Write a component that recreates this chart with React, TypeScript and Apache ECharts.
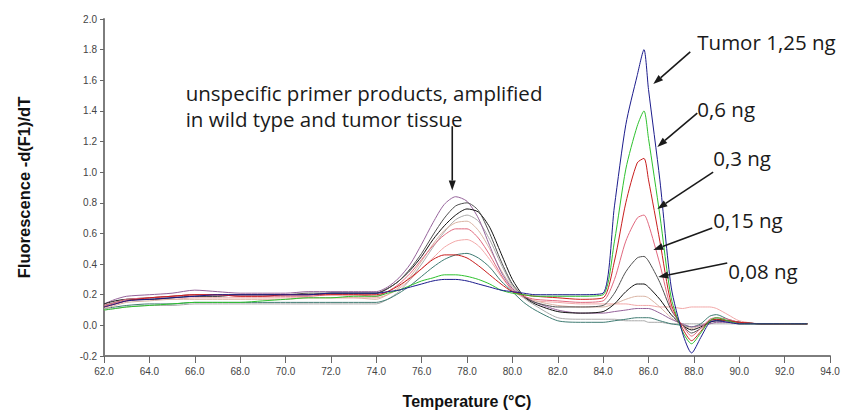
import React, { useEffect, useRef } from "react";
import * as echarts from "echarts";

// Melting temperature grid (°C) shared by every curve
const temps = [
  62, 62.5, 63, 64, 65, 66, 67, 68, 69, 70, 71, 72, 73, 74,
  74.5, 75, 75.5, 76, 76.5, 77, 77.5, 78, 78.5, 79, 79.5, 80, 80.5, 81, 82, 83,
  84,
  84.5, 85, 85.5, 85.8, 86, 86.5, 87, 87.5, 87.9,
  88.3, 88.7, 89, 89.5, 90, 91, 92, 93,
];

// -d(F1)/dT per sample
const tumor125 = [
  0.12, 0.14, 0.16, 0.17, 0.18, 0.19, 0.2, 0.2, 0.2, 0.2, 0.2, 0.21, 0.21, 0.21,
  0.22, 0.23, 0.25, 0.27, 0.29, 0.3, 0.3, 0.29, 0.27, 0.25, 0.23, 0.22, 0.21, 0.2, 0.2, 0.2,
  0.21,
  0.78, 1.31, 1.63, 1.8, 1.54, 0.95, 0.25, -0.05, -0.18,
  -0.08, 0.02, 0.03, 0.02, 0.01, 0.01, 0.01, 0.01,
];
const tumor06 = [
  0.1, 0.11, 0.12, 0.13, 0.14, 0.15, 0.15, 0.15, 0.16, 0.17, 0.18, 0.18, 0.19, 0.19,
  0.21, 0.23, 0.26, 0.29, 0.31, 0.33, 0.33, 0.32, 0.3, 0.27, 0.23, 0.21, 0.2, 0.19, 0.19, 0.19,
  0.2,
  0.55, 1.02, 1.3, 1.4, 1.22, 0.72, 0.18, -0.04, -0.12,
  -0.05, 0.03, 0.05, 0.03, 0.01, 0.01, 0.01, 0.01,
];
const tumor03 = [
  0.12, 0.14, 0.16, 0.18, 0.19, 0.2, 0.2, 0.19, 0.19, 0.2, 0.2, 0.2, 0.2, 0.2,
  0.22, 0.26, 0.31, 0.37, 0.43, 0.46, 0.46, 0.44, 0.39, 0.33, 0.27, 0.22, 0.2, 0.19, 0.18, 0.17,
  0.18,
  0.42, 0.8, 1.06, 1.09, 0.95, 0.55, 0.14, -0.02, -0.1,
  -0.04, 0.03, 0.04, 0.03, 0.02, 0.01, 0.01, 0.01,
];
const tumor015 = [
  0.13, 0.15, 0.17, 0.18, 0.19, 0.2, 0.2, 0.19, 0.19, 0.19, 0.19, 0.2, 0.2, 0.19,
  0.22, 0.27, 0.34, 0.43, 0.52, 0.59, 0.63, 0.63, 0.57, 0.46, 0.33, 0.23, 0.19, 0.17, 0.16, 0.15,
  0.16,
  0.3, 0.55, 0.7, 0.72, 0.66, 0.4, 0.11, 0.0, -0.07,
  -0.02, 0.04, 0.05, 0.04, 0.02, 0.01, 0.01, 0.01,
];
const tumor008 = [
  0.13, 0.15, 0.17, 0.18, 0.19, 0.2, 0.2, 0.2, 0.2, 0.2, 0.21, 0.21, 0.21, 0.21,
  0.24, 0.29, 0.37, 0.47, 0.59, 0.7, 0.78, 0.8, 0.75, 0.6, 0.42, 0.27, 0.19, 0.15, 0.12, 0.12,
  0.13,
  0.21, 0.35, 0.44, 0.45, 0.42, 0.28, 0.1, 0.0, -0.05,
  -0.02, 0.03, 0.04, 0.03, 0.02, 0.01, 0.01, 0.01,
];
const tumor004 = [
  0.14, 0.16, 0.17, 0.17, 0.18, 0.19, 0.19, 0.2, 0.2, 0.2, 0.2, 0.21, 0.21, 0.21,
  0.24, 0.29, 0.36, 0.45, 0.56, 0.65, 0.72, 0.76, 0.74, 0.64, 0.47, 0.3, 0.19, 0.14, 0.09, 0.08,
  0.09,
  0.14, 0.22, 0.27, 0.27, 0.25, 0.17, 0.07, 0.0, -0.03,
  -0.01, 0.02, 0.03, 0.03, 0.02, 0.01, 0.01, 0.01,
];
const tumor002 = [
  0.11, 0.13, 0.15, 0.16, 0.17, 0.17, 0.17, 0.17, 0.17, 0.17, 0.18, 0.18, 0.18, 0.17,
  0.2, 0.25, 0.32, 0.42, 0.53, 0.62, 0.67, 0.68, 0.62, 0.5, 0.36, 0.25, 0.19, 0.16, 0.13, 0.12,
  0.12,
  0.14, 0.17, 0.19, 0.19, 0.18, 0.12, 0.05, 0.0, -0.02,
  0.0, 0.02, 0.03, 0.02, 0.01, 0.01, 0.01, 0.01,
];
const tumor001 = [
  0.14, 0.17, 0.19, 0.2, 0.21, 0.23, 0.22, 0.21, 0.21, 0.21, 0.22, 0.22, 0.22, 0.22,
  0.25, 0.31, 0.4, 0.53, 0.67, 0.79, 0.84, 0.81, 0.7, 0.52, 0.35, 0.24, 0.19, 0.15, 0.1, 0.08,
  0.08,
  0.09, 0.1, 0.11, 0.11, 0.11, 0.08, 0.04, 0.01, -0.01,
  0.0, 0.01, 0.02, 0.02, 0.01, 0.01, 0.01, 0.01,
];
const wildType1 = [
  0.11, 0.12, 0.13, 0.14, 0.14, 0.15, 0.15, 0.15, 0.15, 0.15, 0.15, 0.15, 0.15, 0.15,
  0.17, 0.21, 0.26, 0.32, 0.38, 0.43, 0.46, 0.47, 0.44, 0.38, 0.29, 0.22, 0.15, 0.1, 0.03, 0.02,
  0.02,
  0.03, 0.04, 0.05, 0.05, 0.05, 0.03, 0.01, 0.0, -0.01,
  0.01, 0.06, 0.07, 0.04, 0.02, 0.01, 0.01, 0.01,
];
const wildType2 = [
  0.1, 0.11, 0.12, 0.13, 0.13, 0.14, 0.14, 0.14, 0.14, 0.14, 0.14, 0.14, 0.14, 0.14,
  0.17, 0.22, 0.3, 0.4, 0.51, 0.61, 0.69, 0.72, 0.68, 0.56, 0.4, 0.26, 0.18, 0.13, 0.05, 0.04,
  0.04,
  0.04, 0.03, 0.03, 0.03, 0.02, 0.02, 0.01, 0.01, 0.01,
  0.01, 0.01, 0.01, 0.01, 0.01, 0.01, 0.01, 0.01,
];
const wildType3 = [
  0.12, 0.14, 0.16, 0.17, 0.17, 0.18, 0.18, 0.18, 0.18, 0.18, 0.18, 0.18, 0.18, 0.18,
  0.2, 0.24, 0.3, 0.37, 0.44, 0.51, 0.55, 0.56, 0.52, 0.43, 0.32, 0.23, 0.18, 0.16, 0.15, 0.14,
  0.14,
  0.14, 0.14, 0.13, 0.13, 0.13, 0.12, 0.12, 0.11, 0.12,
  0.12, 0.12, 0.11, 0.07, 0.03, 0.01, 0.01, 0.01,
];

const curves = [
  { name: "Wild type 3", color: "#f2a8a8", values: wildType3 },
  { name: "Wild type 2", color: "#aaaaaa", values: wildType2 },
  { name: "Wild type 1", color: "#3f7b72", values: wildType1 },
  { name: "0,02 ng", color: "#d9b4a4", values: tumor002 },
  { name: "0,01 ng", color: "#95639a", values: tumor001 },
  { name: "0,04 ng", color: "#111111", values: tumor004 },
  { name: "0,08 ng", color: "#505050", values: tumor008 },
  { name: "0,15 ng", color: "#e0687e", values: tumor015 },
  { name: "0,3 ng", color: "#c81e1e", values: tumor03 },
  { name: "0,6 ng", color: "#2ec12e", values: tumor06 },
  { name: "Tumor 1,25 ng", color: "#1c1c8c", values: tumor125 },
];

// Annotation arrows in data coordinates: [from, to]
const arrows: [number, number][][] = [
  [[77.35, 1.3], [77.35, 0.88]],
  [[87.84, 1.785], [86.21, 1.575]],
  [[88.15, 1.386], [86.39, 1.165]],
  [[88.85, 1.0], [86.39, 0.76]],
  [[88.81, 0.636], [86.21, 0.492]],
  [[89.47, 0.407], [86.43, 0.316]],
];

// Annotation texts anchored at their left/middle point in data coordinates
const notes: { text: string; at: [number, number] }[] = [
  { text: "unspecific primer products, amplified", at: [65.6, 1.515] },
  { text: "in wild type and tumor tissue", at: [65.6, 1.35] },
  { text: "Tumor 1,25 ng", at: [88.15, 1.85] },
  { text: "0,6 ng", at: [88.15, 1.415] },
  { text: "0,3 ng", at: [88.85, 1.095] },
  { text: "0,15 ng", at: [88.85, 0.685] },
  { text: "0,08 ng", at: [89.51, 0.355] },
];

const labelFont = "Liberation Sans, Arial, sans-serif";
const noteFont = "Open Sans, Noto Sans, sans-serif";

export default function App() {
  const ref = useRef<HTMLDivElement>(null);

  useEffect(() => {
    document.body.style.margin = "0";
    const chart = echarts.init(ref.current!, null, { renderer: "svg" });

    chart.setOption({
      animation: false,
      backgroundColor: "#ffffff",
      grid: {
        left: 104,
        right: 17,
        top: 19,
        bottom: 58,
        containLabel: false,
        outerBoundsMode: "none",
      },
      xAxis: {
        type: "value",
        min: 62,
        max: 94,
        interval: 2,
        name: "Temperature (°C)",
        nameLocation: "middle",
        nameGap: 37,
        nameTextStyle: { fontFamily: labelFont, fontWeight: "bold", fontSize: 16, color: "#111" },
        axisLine: { onZero: false, lineStyle: { color: "#7d7d7d", width: 2 } },
        axisTick: { show: true, length: 7, lineStyle: { color: "#666", width: 1 } },
        axisLabel: {
          margin: 10,
          fontFamily: labelFont,
          fontSize: 10,
          color: "#444",
          formatter: (v: number) => v.toFixed(1),
        },
        splitLine: { show: false },
      },
      yAxis: {
        type: "value",
        min: -0.2,
        max: 2.0,
        interval: 0.2,
        name: "Fluorescence -d(F1)/dT",
        nameLocation: "middle",
        nameGap: 72,
        nameTextStyle: { fontFamily: labelFont, fontWeight: "bold", fontSize: 16.5, color: "#111" },
        axisLine: { onZero: false, lineStyle: { color: "#7d7d7d", width: 2 } },
        axisTick: { show: true, length: 4, lineStyle: { color: "#666", width: 1 } },
        axisLabel: {
          margin: 7,
          fontFamily: labelFont,
          fontSize: 10,
          color: "#444",
          formatter: (v: number) => v.toFixed(1),
        },
        splitLine: { show: false },
      },
      series: curves.map((c) => ({
        name: c.name,
        type: "line",
        showSymbol: false,
        smooth: 0.25,
        lineStyle: { color: c.color, width: 1 },
        itemStyle: { color: c.color },
        data: temps.map((t, i) => [t, c.values[i]]),
        z: 2,
      })),
    });

    const px = (p: [number, number]) =>
      chart.convertToPixel({ gridIndex: 0 }, p) as unknown as number[];

    const elements: any[] = [];
    arrows.forEach(([from, to]) => {
      const a = px(from);
      const b = px(to);
      const dx = b[0] - a[0];
      const dy = b[1] - a[1];
      const len = Math.sqrt(dx * dx + dy * dy);
      const ux = dx / len;
      const uy = dy / len;
      const head = 10;
      const half = 3.5;
      const base = [b[0] - ux * head, b[1] - uy * head];
      elements.push({
        type: "line",
        shape: { x1: a[0], y1: a[1], x2: base[0], y2: base[1] },
        style: { stroke: "#1a1a1a", lineWidth: 1.6 },
        z: 10,
      });
      elements.push({
        type: "polygon",
        shape: {
          points: [
            [b[0], b[1]],
            [base[0] - uy * half, base[1] + ux * half],
            [base[0] + uy * half, base[1] - ux * half],
          ],
        },
        style: { fill: "#1a1a1a" },
        z: 10,
      });
    });
    notes.forEach((n) => {
      const p = px(n.at);
      elements.push({
        type: "text",
        x: p[0],
        y: p[1],
        style: {
          text: n.text,
          fontFamily: noteFont,
          fontSize: 20.5,
          fill: "#1a1a1a",
          align: "left",
          verticalAlign: "middle",
        },
        z: 10,
      });
    });
    chart.setOption({ graphic: elements });

    return () => chart.dispose();
  }, []);

  return <div ref={ref} style={{ width: 847, height: 414 }} />;
}
